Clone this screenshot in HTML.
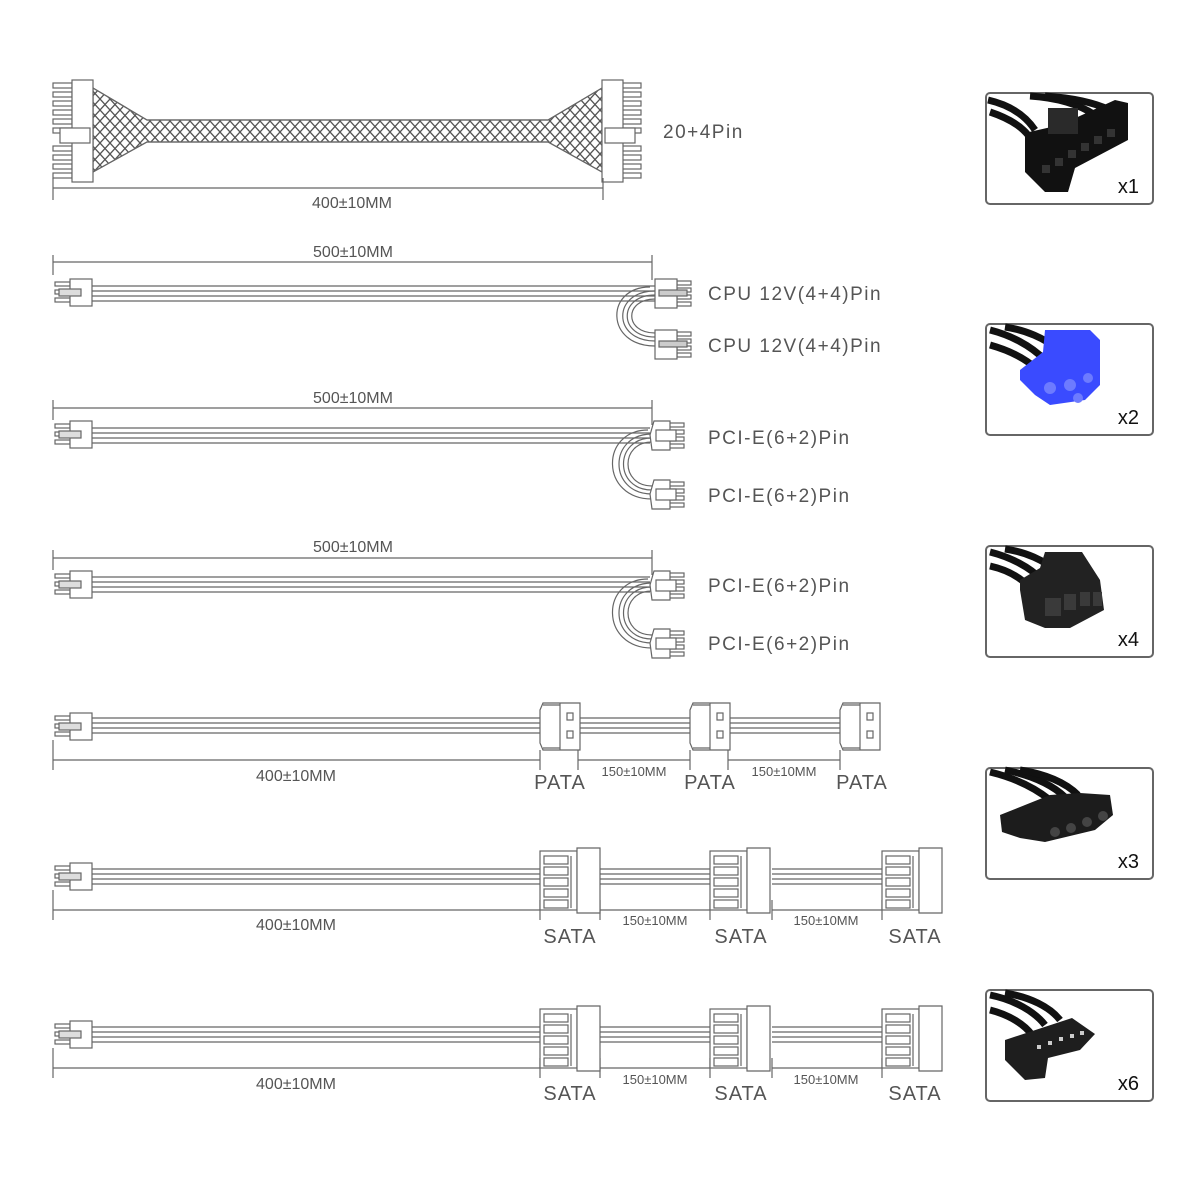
<!DOCTYPE html>
<html><head><meta charset="utf-8"><style>
html,body{margin:0;padding:0;background:#fff;}
svg{display:block;}
text{font-family:"Liberation Sans",sans-serif;fill:#555;}
</style></head><body>
<svg width="1200" height="1200" viewBox="0 0 1200 1200" xmlns="http://www.w3.org/2000/svg">
<defs>
<pattern id="braid" width="10" height="11" patternUnits="userSpaceOnUse">
<path d="M0,0 L10,11 M10,0 L0,11" stroke="#555" stroke-width="1.3"/>
</pattern>
<g id="lc" fill="#fff" stroke="#666" stroke-width="1.2">
<rect x="0" y="3" width="15" height="4"/><rect x="0" y="11" width="15" height="4"/><rect x="0" y="19" width="15" height="4"/>
<rect x="15" y="0" width="22" height="27"/>
<rect x="4" y="10" width="22" height="7" fill="#ddd"/>
</g>
<g id="cpu" fill="#fff" stroke="#666" stroke-width="1.2">
<rect x="22" y="2" width="14" height="4"/><rect x="22" y="9" width="14" height="4"/><rect x="22" y="16" width="14" height="4"/><rect x="22" y="23" width="14" height="4"/>
<rect x="0" y="0" width="22" height="29"/>
<rect x="4" y="11" width="28" height="6" fill="#ccc"/>
</g>
<g id="pci" fill="#fff" stroke="#666" stroke-width="1.2">
<rect x="16" y="2" width="18" height="4"/><rect x="16" y="9" width="18" height="4"/><rect x="16" y="16" width="18" height="4"/><rect x="16" y="23" width="18" height="4"/>
<path d="M4,0 L20,0 L20,29 L2,29 L0,14 Z"/>
<rect x="6" y="9" width="20" height="11"/>
</g>
<g id="pata" fill="#fff" stroke="#666" stroke-width="1.2">
<path d="M3,0 L40,0 L40,47 L3,47 L0,40 L0,7 Z"/>
<line x1="20" y1="0" x2="20" y2="47"/><line x1="3" y1="2" x2="20" y2="2"/><line x1="3" y1="45" x2="20" y2="45"/>
<rect x="27" y="10" width="6" height="7"/><rect x="27" y="28" width="6" height="7"/>
</g>
<g id="sata" fill="#fff" stroke="#666" stroke-width="1.2">
<rect x="0" y="3" width="37" height="59"/>
<path d="M37,0 L60,0 L60,65 L37,65 Z"/>
<rect x="4" y="8" width="24" height="8"/><rect x="4" y="19" width="24" height="8"/><rect x="4" y="30" width="24" height="8"/><rect x="4" y="41" width="24" height="8"/><rect x="4" y="52" width="24" height="8"/>
<line x1="31" y1="8" x2="31" y2="60"/>
</g>
<g id="wires" stroke="#111" stroke-width="6" fill="none" stroke-linecap="round">
<path d="M988,10 C1010,14 1030,22 1050,36"/>
<path d="M988,22 C1008,26 1025,34 1045,46"/>
<path d="M998,2 C1020,6 1040,16 1058,28"/>
<path d="M1012,2 C1030,6 1048,14 1066,24"/>
</g>
</defs>

<!-- Row 1: 24 pin -->
<g stroke="#666" stroke-width="1.2" fill="#fff">
<path d="M93,88 L147,120 L548,120 L602,88 L602,172 L548,142 L147,142 L93,172 Z" fill="url(#braid)"/>
<path d="M93,88 L147,120 L548,120 L602,88 L602,172 L548,142 L147,142 L93,172 Z" fill="none"/>
<g>
<rect x="53" y="83" width="19" height="5"/><rect x="53" y="92" width="19" height="5"/><rect x="53" y="101" width="19" height="5"/><rect x="53" y="110" width="19" height="5"/><rect x="53" y="119" width="19" height="5"/><rect x="53" y="128" width="19" height="5"/><rect x="53" y="146" width="19" height="5"/><rect x="53" y="155" width="19" height="5"/><rect x="53" y="164" width="19" height="5"/><rect x="53" y="173" width="19" height="5"/>
<rect x="72" y="80" width="21" height="102"/>
<rect x="60" y="128" width="30" height="15"/>
</g>
<g>
<rect x="622" y="83" width="19" height="5"/><rect x="622" y="92" width="19" height="5"/><rect x="622" y="101" width="19" height="5"/><rect x="622" y="110" width="19" height="5"/><rect x="622" y="119" width="19" height="5"/><rect x="622" y="128" width="19" height="5"/><rect x="622" y="146" width="19" height="5"/><rect x="622" y="155" width="19" height="5"/><rect x="622" y="164" width="19" height="5"/><rect x="622" y="173" width="19" height="5"/>
<rect x="602" y="80" width="21" height="102"/>
<rect x="605" y="128" width="30" height="15"/>
</g>
<path d="M53,178 V200 M53,188 H603 M603,178 V200" fill="none"/>
</g>
<text x="663" y="138" font-size="19" letter-spacing="1.5">20+4Pin</text>
<text x="352" y="208" font-size="16" text-anchor="middle">400±10MM</text>

<!-- Row 2 CPU -->
<g stroke="#666" stroke-width="1.2" fill="none">
<path d="M53,255 V275 M53,262 H652 M652,255 V280"/>
<path d="M92,286 H655 M92,291 H655 M92,296 H655 M92,301 H655"/>
<path d="M655,291 C612,291 612,341 655,341 M655,295 C618,295 618,337 655,337 M655,299 C624,299 624,333 655,333 M650,287 C605,287 605,346 655,346"/>
</g>
<use href="#lc" x="55" y="279"/>
<use href="#cpu" x="655" y="279"/>
<use href="#cpu" x="655" y="330"/>
<text x="353" y="257" font-size="16" text-anchor="middle">500±10MM</text>
<text x="708" y="300" font-size="19" letter-spacing="1.5">CPU 12V(4+4)Pin</text>
<text x="708" y="352" font-size="19" letter-spacing="1.5">CPU 12V(4+4)Pin</text>

<!-- Row 3 PCIE -->
<g stroke="#666" stroke-width="1.2" fill="none">
<path d="M53,400 V420 M53,408 H652 M652,400 V425"/>
<path d="M92,428 H650 M92,433 H650 M92,438 H650 M92,443 H650"/>
<path d="M652,434 C608,434 608,494 652,494 M652,438 C614,438 614,490 652,490 M652,442 C620,442 620,486 652,486 M648,430 C600,430 600,499 652,499"/>
</g>
<use href="#lc" x="55" y="421"/>
<use href="#pci" x="650" y="421"/>
<use href="#pci" x="650" y="480"/>
<text x="353" y="403" font-size="16" text-anchor="middle">500±10MM</text>
<text x="708" y="444" font-size="19" letter-spacing="1.5">PCI-E(6+2)Pin</text>
<text x="708" y="502" font-size="19" letter-spacing="1.5">PCI-E(6+2)Pin</text>

<!-- Row 4 PCIE -->
<g stroke="#666" stroke-width="1.2" fill="none">
<path d="M53,550 V570 M53,558 H652 M652,550 V575"/>
<path d="M92,577 H650 M92,582 H650 M92,587 H650 M92,592 H650"/>
<path d="M652,583 C608,583 608,643 652,643 M652,587 C614,587 614,639 652,639 M652,591 C620,591 620,635 652,635 M648,579 C600,579 600,648 652,648"/>
</g>
<use href="#lc" x="55" y="571"/>
<use href="#pci" x="650" y="571"/>
<use href="#pci" x="650" y="629"/>
<text x="353" y="552" font-size="16" text-anchor="middle">500±10MM</text>
<text x="708" y="592" font-size="19" letter-spacing="1.5">PCI-E(6+2)Pin</text>
<text x="708" y="650" font-size="19" letter-spacing="1.5">PCI-E(6+2)Pin</text>

<!-- Row 5 PATA -->
<g stroke="#666" stroke-width="1.2" fill="none">
<path d="M92,718 H540 M92,723 H540 M92,728 H540 M92,733 H540"/>
<path d="M578,718 H690 M578,723 H690 M578,728 H690 M578,733 H690"/>
<path d="M728,718 H840 M728,723 H840 M728,728 H840 M728,733 H840"/>
<path d="M53,740 V770 M53,760 H540 M540,750 V770 M578,750 V770 M578,760 H690 M690,750 V770 M728,750 V770 M728,760 H840 M840,750 V770"/>
</g>
<use href="#lc" x="55" y="713"/>
<use href="#pata" x="540" y="703"/>
<use href="#pata" x="690" y="703"/>
<use href="#pata" x="840" y="703"/>
<text x="296" y="781" font-size="16" text-anchor="middle">400±10MM</text>
<text x="634" y="776" font-size="13" text-anchor="middle">150±10MM</text>
<text x="784" y="776" font-size="13" text-anchor="middle">150±10MM</text>
<text x="560" y="789" font-size="20" text-anchor="middle" letter-spacing="1">PATA</text>
<text x="710" y="789" font-size="20" text-anchor="middle" letter-spacing="1">PATA</text>
<text x="862" y="789" font-size="20" text-anchor="middle" letter-spacing="1">PATA</text>

<!-- Row 6 SATA -->
<g stroke="#666" stroke-width="1.2" fill="none">
<path d="M92,869 H540 M92,874 H540 M92,879 H540 M92,884 H540"/>
<path d="M600,869 H710 M600,874 H710 M600,879 H710 M600,884 H710"/>
<path d="M772,869 H882 M772,874 H882 M772,879 H882 M772,884 H882"/>
<path d="M53,890 V920 M53,910 H540 M540,900 V920 M600,900 V920 M600,910 H710 M710,900 V920 M772,900 V920 M772,910 H882 M882,900 V920"/>
</g>
<use href="#lc" x="55" y="863"/>
<use href="#sata" x="540" y="848"/>
<use href="#sata" x="710" y="848"/>
<use href="#sata" x="882" y="848"/>
<text x="296" y="930" font-size="16" text-anchor="middle">400±10MM</text>
<text x="655" y="925" font-size="13" text-anchor="middle">150±10MM</text>
<text x="826" y="925" font-size="13" text-anchor="middle">150±10MM</text>
<text x="570" y="943" font-size="20" text-anchor="middle" letter-spacing="1">SATA</text>
<text x="741" y="943" font-size="20" text-anchor="middle" letter-spacing="1">SATA</text>
<text x="915" y="943" font-size="20" text-anchor="middle" letter-spacing="1">SATA</text>

<!-- Row 7 SATA -->
<g stroke="#666" stroke-width="1.2" fill="none">
<path d="M92,1027 H540 M92,1032 H540 M92,1037 H540 M92,1042 H540"/>
<path d="M600,1027 H710 M600,1032 H710 M600,1037 H710 M600,1042 H710"/>
<path d="M772,1027 H882 M772,1032 H882 M772,1037 H882 M772,1042 H882"/>
<path d="M53,1048 V1078 M53,1068 H540 M540,1058 V1078 M600,1058 V1078 M600,1068 H710 M710,1058 V1078 M772,1058 V1078 M772,1068 H882 M882,1058 V1078"/>
</g>
<use href="#lc" x="55" y="1021"/>
<use href="#sata" x="540" y="1006"/>
<use href="#sata" x="710" y="1006"/>
<use href="#sata" x="882" y="1006"/>
<text x="296" y="1089" font-size="16" text-anchor="middle">400±10MM</text>
<text x="655" y="1084" font-size="13" text-anchor="middle">150±10MM</text>
<text x="826" y="1084" font-size="13" text-anchor="middle">150±10MM</text>
<text x="570" y="1100" font-size="20" text-anchor="middle" letter-spacing="1">SATA</text>
<text x="741" y="1100" font-size="20" text-anchor="middle" letter-spacing="1">SATA</text>
<text x="915" y="1100" font-size="20" text-anchor="middle" letter-spacing="1">SATA</text>

<!-- Right photo boxes -->
<g fill="#fff" stroke="#666" stroke-width="2">
<rect x="986" y="93" width="167" height="111" rx="4"/>
<rect x="986" y="324" width="167" height="111" rx="4"/>
<rect x="986" y="546" width="167" height="111" rx="4"/>
<rect x="986" y="768" width="167" height="111" rx="4"/>
<rect x="986" y="990" width="167" height="111" rx="4"/>
</g>
<!-- box1 24pin -->
<g>
<g stroke="#111" stroke-width="7" fill="none">
<path d="M988,100 C1010,105 1025,115 1035,130"/><path d="M990,112 C1008,118 1020,125 1028,135"/>
<path d="M1030,96 C1060,98 1080,105 1095,115"/><path d="M1045,96 C1075,98 1095,103 1110,110"/>
</g>
<path d="M1025,133 L1060,125 L1115,100 L1128,103 L1128,140 L1075,168 L1068,192 L1045,192 L1025,172 Z" fill="#111"/>
<rect x="1048" y="108" width="30" height="26" fill="#2a2a2a"/>
<g fill="#333"><rect x="1042" y="165" width="8" height="8"/><rect x="1055" y="158" width="8" height="8"/><rect x="1068" y="150" width="8" height="8"/><rect x="1081" y="143" width="8" height="8"/><rect x="1094" y="136" width="8" height="8"/><rect x="1107" y="129" width="8" height="8"/></g>
</g>
<text x="1139" y="193" font-size="20" style="fill:#111" text-anchor="end">x1</text>
<!-- box2 blue -->
<g>
<g stroke="#111" stroke-width="7" fill="none">
<path d="M990,330 C1010,335 1030,345 1045,360"/><path d="M990,345 C1008,350 1025,358 1038,370"/><path d="M1005,327 C1025,330 1045,338 1058,350"/>
</g>
<path d="M1020,370 L1043,352 L1045,330 L1090,330 L1100,340 L1100,385 L1085,400 L1050,405 L1035,395 L1020,380 Z" fill="#3a4bff"/>
<g fill="#6d7bff"><circle cx="1050" cy="388" r="6"/><circle cx="1070" cy="385" r="6"/><circle cx="1088" cy="378" r="5"/><circle cx="1078" cy="398" r="5"/></g>
</g>
<text x="1139" y="424" font-size="20" style="fill:#111" text-anchor="end">x2</text>
<!-- box3 pcie -->
<g>
<g stroke="#111" stroke-width="7" fill="none">
<path d="M990,552 C1010,557 1030,567 1042,580"/><path d="M990,566 C1008,570 1022,578 1032,590"/><path d="M1005,549 C1025,552 1045,560 1056,572"/>
</g>
<path d="M1020,580 L1040,568 L1045,552 L1082,552 L1100,580 L1104,610 L1070,628 L1045,628 L1025,620 L1020,590 Z" fill="#222"/>
<g fill="#3a3a3a"><rect x="1045" y="598" width="16" height="18"/><rect x="1064" y="594" width="12" height="16"/><rect x="1080" y="592" width="10" height="14"/><rect x="1093" y="592" width="9" height="14"/></g>
</g>
<text x="1139" y="646" font-size="20" style="fill:#111" text-anchor="end">x4</text>
<!-- box4 molex -->
<g>
<g stroke="#111" stroke-width="7" fill="none">
<path d="M990,772 C1015,778 1035,788 1050,800"/><path d="M1005,770 C1030,775 1050,783 1065,797"/><path d="M1020,770 C1045,774 1065,782 1078,795"/>
</g>
<path d="M1000,815 L1050,795 L1080,793 L1110,795 L1113,815 L1095,830 L1045,842 L1020,838 L1002,832 Z" fill="#1c1c1c"/>
<g fill="#444"><circle cx="1055" cy="832" r="5"/><circle cx="1071" cy="828" r="5"/><circle cx="1087" cy="822" r="5"/><circle cx="1103" cy="816" r="5"/></g>
</g>
<text x="1139" y="868" font-size="20" style="fill:#111" text-anchor="end">x3</text>
<!-- box5 sata -->
<g>
<g stroke="#111" stroke-width="7" fill="none">
<path d="M990,995 C1015,1000 1035,1012 1045,1025"/><path d="M990,1010 C1010,1015 1025,1025 1032,1035"/><path d="M1005,993 C1030,997 1050,1007 1060,1020"/>
</g>
<path d="M1005,1040 L1072,1018 L1095,1034 L1080,1050 L1048,1058 L1045,1078 L1025,1080 L1005,1060 Z" fill="#1e1e1e"/>
<g fill="#ccc"><rect x="1037" y="1045" width="4" height="4"/><rect x="1048" y="1041" width="4" height="4"/><rect x="1059" y="1037" width="4" height="4"/><rect x="1070" y="1034" width="4" height="4"/><rect x="1080" y="1031" width="4" height="4"/></g>
</g>
<text x="1139" y="1090" font-size="20" style="fill:#111" text-anchor="end">x6</text>
</svg>
</body></html>
